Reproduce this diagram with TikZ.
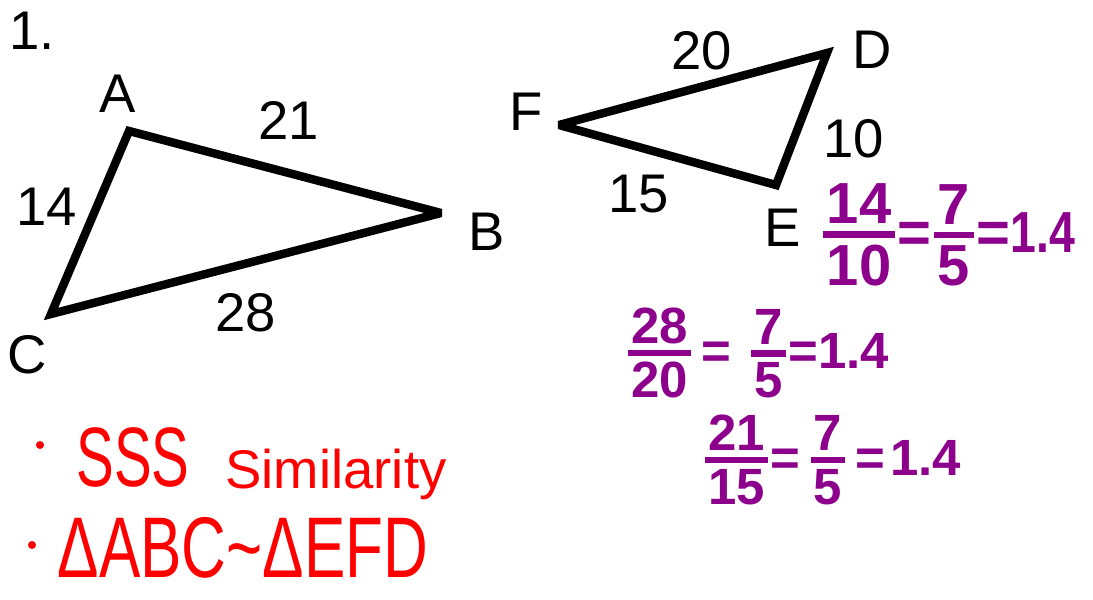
\documentclass[tikz,border=0pt]{standalone}
\usepackage{graphicx}
\usepackage{fontspec}
\setmainfont{Liberation Sans}
\usepackage{tikz}
\usetikzlibrary{positioning}
\definecolor{pen}{RGB}{140,0,140}
\definecolor{marker}{RGB}{255,0,0}
\newcommand{\hfrac}[2]{\raisebox{-0.566em}{\vbox{\halign{\hfil\kern0.06em##\kern0.06em\hfil\cr#1\cr
  \noalign{\kern0.12em\hrule height0.12em\kern0.12em}#2\cr}}}}
\newcommand{\narrow}[1]{\scalebox{0.8}[1]{#1}}

\begin{document}
\begin{tikzpicture}[x=0.02cm, y=-0.02cm,
  lbl/.style={font=\fontsize{31}{31}\selectfont, inner sep=0pt},
  side/.style={line width=4.8pt, line join=miter, miter limit=3},
  ratio/.style={text=pen, font=\fontsize{33}{33}\selectfont\bfseries, inner sep=0pt, anchor=west},
  note/.style={text=marker, inner sep=0pt}]
\useasboundingbox (0,0) rectangle (1093,599);
% triangles
\foreach \n/\x/\y in {A/129/131,B/441/213,C/51/314,F/559/125,D/827/53,E/776/185}
  \coordinate (\n) at (\x,\y);
\draw[side] (A) -- (B) -- (C) -- cycle;
\draw[side] (F) -- (D) -- (E) -- cycle;
% printed labels
\foreach \n/\x/\y/\t in {num/32/31/1., lA/118/94/A, lB/487/232/B, lC/27/355/C,
    ab/289/120/21, ac/47/207/14, bc/246/313/28,
    lF/526/112/F, lD/872/50/D, lE/783/228/E,
    fd/702/51/20, de/854/139/10, fe/639/194/15}
  \node[lbl] (\n) at (\x,\y) {\t};
% ratios
\node[ratio] (r1) at (823,235)
  {\hfrac{14}{10}\kern0.05em=\kern0.05em\hfrac{7}{5}\kern0.05em=\narrow{1.4}};
\node[ratio, font=\fontsize{29}{29}\selectfont\bfseries] (r2) at (628,353)
  {\hfrac{28}{20}\kern0.2em=\kern0.4em\hfrac{7}{5}\kern0.05em=1.4};
\node[ratio, font=\fontsize{29}{29}\selectfont\bfseries] (r3) at (705,460)
  {\hfrac{21}{15}\kern0.05em=\kern0.2em\hfrac{7}{5}\kern0.2em=\kern0.1em1.4};
% conclusions
\fill[marker] (40,445) circle (4);
\fill[marker] (32,545) circle (4);
\node[note, font=\fontsize{48}{48}\selectfont] (sss) at (133,457) {\scalebox{0.67}[1]{SSS}};
\node[note, font=\fontsize{31}{31}\selectfont] (sim) at (336,474) {Similarity};
\node[note, font=\fontsize{49}{49}\selectfont] (simto) at (243,548) {\scalebox{0.72}[1]{ΔABC\textasciitilde ΔEFD}};
\end{tikzpicture}
\end{document}
